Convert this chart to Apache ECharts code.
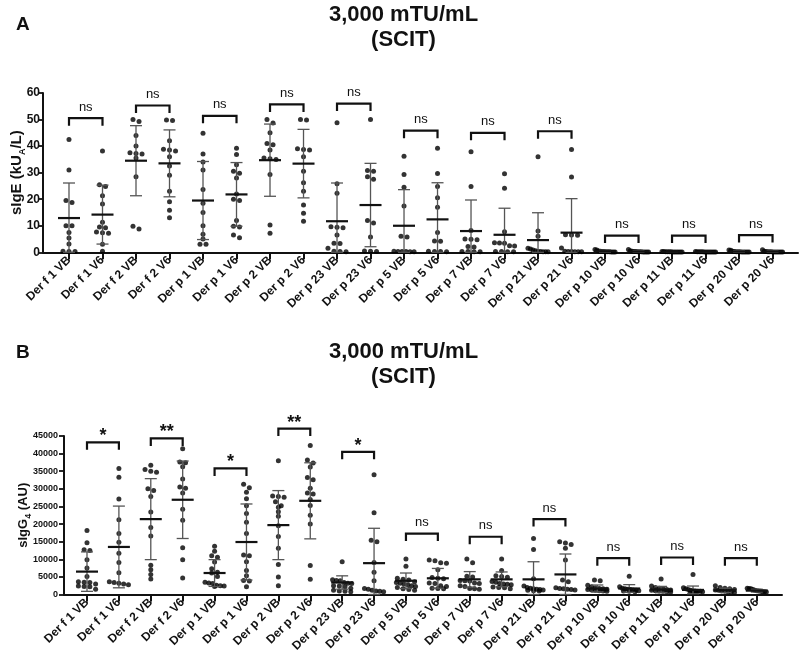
<!DOCTYPE html>
<html>
<head>
<meta charset="utf-8">
<script src="https://cdn.jsdelivr.net/npm/echarts@6/dist/echarts.min.js"></script>
<style>
html, body { margin: 0; padding: 0; background: #fff; }
#chart { width: 807px; height: 668px; }
</style>
</head>
<body>
<div id="chart"></div>
<script>
var categories = ['Der f 1 VB', 'Der f 1 V6', 'Der f 2 VB', 'Der f 2 V6', 'Der p 1 VB', 'Der p 1 V6',
  'Der p 2 VB', 'Der p 2 V6', 'Der p 23 VB', 'Der p 23 V6', 'Der p 5 VB', 'Der p 5 V6',
  'Der p 7 VB', 'Der p 7 V6', 'Der p 21 VB', 'Der p 21 V6', 'Der p 10 VB', 'Der p 10 V6',
  'Der p 11 VB', 'Der p 11 V6', 'Der p 20 VB', 'Der p 20 V6'];

// panel A : sIgE (kUA/L)
var sigeTicks = [0, 10, 20, 30, 40, 50, 60];
var sigeDots = [
  [42.5, 31.0, 19.5, 18.8, 10.0, 10.0, 7.5, 5.4, 3.1, 0.4, 0.3, 0.3],
  [38.2, 25.4, 24.8, 21.3, 18.2, 11.3, 9.5, 9.2, 7.6, 7.4, 7.2, 3.0, 0.4],
  [50.0, 49.3, 44.0, 40.0, 37.5, 37.2, 37.0, 35.5, 28.5, 9.8, 8.8],
  [49.8, 49.6, 42.0, 38.8, 38.5, 38.2, 36.0, 32.5, 29.0, 23.0, 19.0, 15.8, 13.0],
  [44.8, 37.0, 34.0, 31.0, 23.7, 18.5, 15.0, 10.0, 6.8, 5.0, 3.0, 3.0],
  [39.2, 36.8, 33.0, 30.5, 29.8, 28.0, 22.0, 20.0, 19.5, 12.0, 9.8, 9.5, 6.5, 5.5],
  [50.0, 48.7, 45.0, 41.0, 40.5, 38.5, 35.5, 35.2, 35.0, 29.3, 10.3, 7.2],
  [50.0, 49.8, 39.0, 38.7, 38.5, 36.0, 30.5, 26.2, 23.0, 17.8, 14.7, 11.7],
  [48.8, 25.8, 22.2, 9.6, 9.4, 9.2, 6.5, 3.4, 3.3, 1.5, 0.4, 0.3, 0.2],
  [50.0, 30.8, 30.5, 28.5, 27.5, 12.0, 11.0, 5.8, 0.5, 0.4, 0.3],
  [36.2, 29.3, 24.5, 17.4, 6.0, 5.8, 0.4, 0.3, 0.3, 0.3, 0.2, 0.2],
  [39.2, 29.7, 24.8, 20.5, 17.0, 7.5, 4.3, 4.2, 0.4, 0.3, 0.3, 0.2],
  [37.9, 24.8, 8.2, 5.0, 4.9, 4.7, 2.2, 2.0, 0.3, 0.3, 0.2, 0.2],
  [29.6, 24.1, 7.7, 3.6, 3.5, 3.4, 2.5, 2.4, 0.3, 0.3, 0.2, 0.2],
  [36.0, 8.0, 6.0, 1.5, 1.2, 0.9, 0.6, 0.3, 0.3, 0.2, 0.2, 0.2],
  [38.7, 28.4, 6.6, 6.5, 6.4, 1.6, 0.4, 0.3, 0.3, 0.2, 0.2, 0.2],
  [1.1, 0.9, 0.5, 0.4, 0.3, 0.3, 0.2, 0.2, 0.2, 0.1, 0.1, 0.1],
  [1.1, 0.6, 0.4, 0.3, 0.3, 0.2, 0.2, 0.2, 0.1, 0.1, 0.1, 0.1],
  [0.3, 0.3, 0.2, 0.2, 0.2, 0.2, 0.1, 0.1, 0.1, 0.1, 0.1, 0.1],
  [0.3, 0.2, 0.2, 0.2, 0.2, 0.1, 0.1, 0.1, 0.1, 0.1, 0.1, 0.1],
  [0.9, 0.8, 0.4, 0.3, 0.2, 0.2, 0.2, 0.1, 0.1, 0.1, 0.1, 0.1],
  [1.0, 0.4, 0.3, 0.2, 0.2, 0.2, 0.1, 0.1, 0.1, 0.1, 0.1, 0.1]
];
var sigeMean = [12.9, 14.2, 34.5, 33.5, 19.5, 21.8, 34.7, 33.4, 11.7, 17.8, 10.0, 12.4, 8.0, 6.6, 4.6, 7.4, 0.4, 0.3, 0.2, 0.2, 0.3, 0.3];
var sigeSd = [13.2, 11.1, 13.2, 12.6, 14.7, 12.0, 13.6, 12.9, 14.4, 15.7, 13.6, 13.8, 11.7, 10.0, 10.3, 12.8, 0.35, 0.3, 0.1, 0.1, 0.3, 0.3];
var sigeBracketY = [50.5, 55.3, 51.4, 55.7, 56.0, 45.8, 45.0, 45.6, 6.3, 6.3, 6.5];
var sigeBracketLabel = ['ns', 'ns', 'ns', 'ns', 'ns', 'ns', 'ns', 'ns', 'ns', 'ns', 'ns'];

// panel B : sIgG4 (AU)
var igg4Ticks = [0, 5000, 10000, 15000, 20000, 25000, 30000, 35000, 40000, 45000];
var igg4Dots = [
  [18200, 14700, 12700, 12500, 9900, 7500, 5100, 3600, 3500, 3400, 3000, 2400, 2300, 2200, 1500],
  [35800, 33300, 27100, 21200, 17300, 14800, 11700, 9100, 6200, 3600, 3400, 3200, 3000, 2800],
  [36700, 35500, 35000, 34700, 30000, 29500, 27800, 23400, 19000, 16600, 8300, 7000, 5700, 4400],
  [41400, 37600, 37400, 36300, 32800, 30500, 30200, 28800, 24200, 21100, 13300, 9900, 4700],
  [13700, 12300, 11000, 10600, 9200, 7300, 6300, 6100, 5100, 3500, 3300, 3100, 2600, 2500, 2400, 2300],
  [31300, 30300, 29000, 27200, 25200, 23000, 20500, 17300, 11200, 11000, 9300, 6800, 5300, 4000, 3800, 2200],
  [38000, 28000, 27800, 27600, 26300, 25200, 24800, 23500, 22200, 19500, 16500, 13100, 8500, 5000, 2500],
  [42300, 38200, 37300, 36200, 33200, 32600, 30200, 28800, 28500, 27000, 25300, 22500, 20000, 8200, 4300],
  [9300, 4200, 4000, 3900, 3400, 3200, 3100, 2500, 2400, 2200, 1800, 1200, 1000, 900, 800],
  [34000, 23200, 15400, 15000, 9100, 6300, 3900, 1700, 1500, 1200, 1000, 900, 800],
  [10100, 8000, 4600, 4300, 4100, 3600, 3400, 3200, 3000, 2800, 2500, 2300, 2000, 1600, 1400, 1200],
  [9800, 9600, 9000, 8900, 7000, 4800, 4600, 4500, 3300, 3100, 2500, 2300, 1800, 1700, 1600],
  [10100, 9000, 5200, 5000, 4000, 3900, 3800, 3300, 3100, 2500, 2300, 1700, 1600, 1500],
  [10100, 6800, 5300, 5100, 4900, 3700, 3500, 3100, 3000, 2900, 2800, 2100, 2000, 1900, 1600],
  [15900, 12800, 4500, 2400, 2000, 1800, 1600, 1500, 1400, 1300, 1200, 1100, 1000],
  [15000, 14600, 14200, 13100, 9800, 4100, 3600, 1900, 1700, 1600, 1500, 1400, 1300],
  [4100, 3900, 2600, 2200, 1900, 1700, 1600, 1500, 1400, 1300, 1200, 1100, 1000, 900],
  [5200, 2200, 1800, 1600, 1500, 1400, 1300, 1200, 1100, 1000, 900, 800],
  [4400, 2400, 2000, 1800, 1600, 1400, 1300, 1200, 1100, 1000, 900, 800, 700],
  [5700, 1900, 1600, 1400, 1200, 1100, 1000, 900, 900, 800, 700, 600],
  [2500, 2000, 1800, 1600, 1400, 1300, 1200, 1000, 900, 800, 700, 600],
  [1800, 1700, 1600, 1400, 1200, 1100, 1000, 900, 800, 800, 700]
];
var igg4Mean = [6500, 13500, 21400, 26900, 6100, 14900, 19700, 26600, 3400, 8900, 3900, 4600, 4300, 4300, 4300, 5700, 1700, 1700, 1400, 1300, 1200, 1100];
var igg4Sd = [5600, 11600, 11500, 11000, 3800, 10800, 9800, 10800, 1900, 9900, 2200, 2800, 2200, 2100, 5000, 5800, 1000, 1100, 900, 1100, 600, 400];
var igg4BracketY = [43200, 44300, 35800, 47100, 40500, 17300, 16400, 21400, 10300, 10500, 10300];
var igg4BracketLabel = ['*', '**', '*', '**', '*', 'ns', 'ns', 'ns', 'ns', 'ns', 'ns'];

var FONT = '"Liberation Sans", Arial, sans-serif';
var INK = '#111';

// spread points of similar value side by side, like a scatter dot plot
function swarm(values, idx, tol) {
  var sorted = values.slice().sort(function (a, b) { return b - a; });
  var out = [], row = [];
  function flush() {
    var n = row.length;
    var step = n > 1 ? Math.min(0.18, 0.6 / (n - 1)) : 0;
    row.forEach(function (v, k) { out.push([idx + (k - (n - 1) / 2) * step, v]); });
    row = [];
  }
  sorted.forEach(function (v) {
    if (row.length && row[0] - v > tol) flush();
    row.push(v);
  });
  flush();
  return out;
}

function dotData(groups, tol) {
  var pts = [];
  groups.forEach(function (g, i) { pts = pts.concat(swarm(g, i, tol)); });
  return pts;
}

function errorItem(params, api) {
  var x = api.value(0), m = api.value(1), s = api.value(2);
  var top = api.coord([x, m + s]);
  var bot = api.coord([x, Math.max(0, m - s)]);
  var mid = api.coord([x, m]);
  var bar = { stroke: '#555', lineWidth: 1.3 };
  return {
    type: 'group',
    children: [
      { type: 'line', shape: { x1: top[0], y1: top[1], x2: bot[0], y2: bot[1] }, style: bar },
      { type: 'line', shape: { x1: top[0] - 6, y1: top[1], x2: top[0] + 6, y2: top[1] }, style: bar },
      { type: 'line', shape: { x1: bot[0] - 6, y1: bot[1], x2: bot[0] + 6, y2: bot[1] }, style: bar },
      { type: 'line', shape: { x1: mid[0] - 11, y1: mid[1], x2: mid[0] + 11, y2: mid[1] }, style: { stroke: INK, lineWidth: 2.2 } }
    ]
  };
}

function bracketRenderer(labels) {
  return function (params, api) {
    var i = api.value(0), y = api.value(1);
    var a = api.coord([i, y]), b = api.coord([i + 1, y]);
    var lab = labels[params.dataIndex];
    var star = lab.indexOf('*') >= 0;
    return {
      type: 'group',
      children: [
        { type: 'polyline', shape: { points: [[a[0], a[1] + 7.5], [a[0], a[1]], [b[0], a[1]], [b[0], a[1] + 7.5]] },
          style: { stroke: INK, lineWidth: 2.2, fill: null } },
        { type: 'text', x: (a[0] + b[0]) / 2, y: a[1] - (star ? 6 : 11),
          style: { text: lab, align: 'center', verticalAlign: 'middle', fill: INK, font: (star ? 'bold 18px ' : '13px ') + FONT } }
      ]
    };
  };
}

function xAxisFor(gridIndex, min, max) {
  var idx = categories.map(function (c, i) { return i; });
  return {
    gridIndex: gridIndex, type: 'value', min: min, max: max,
    splitLine: { show: false },
    axisLine: { lineStyle: { color: INK, width: 2 } },
    axisTick: { customValues: idx, length: 7, lineStyle: { color: INK, width: 2 } },
    axisLabel: { customValues: idx, rotate: 45, margin: 6, color: INK, fontFamily: FONT, fontWeight: 'bold', fontSize: 12,
      formatter: function (v) { return categories[Math.round(v)]; } }
  };
}

function yAxisFor(gridIndex, ticks, labelSize, labelMargin, name, rich, gap) {
  return {
    gridIndex: gridIndex, type: 'value', min: ticks[0], max: ticks[ticks.length - 1], interval: ticks[1] - ticks[0],
    splitLine: { show: false },
    axisLine: { onZero: false, lineStyle: { color: INK, width: 2 } },
    axisTick: { length: 5, lineStyle: { color: INK, width: 1.8 } },
    axisLabel: { margin: labelMargin, color: INK, fontFamily: FONT, fontWeight: 'bold', fontSize: labelSize,
      formatter: function (v) { return String(v); } },
    name: name, nameLocation: 'middle', nameGap: gap, nameMoveOverlap: false,
    nameTextStyle: { rich: rich }
  };
}

var chart = echarts.init(document.getElementById('chart'));

function titleText(text, top, size, left) {
  return { text: text, left: left, top: top, padding: 0,
    textStyle: { fontFamily: FONT, fontWeight: 'bold', fontSize: size, lineHeight: 25, color: INK } };
}

var series = [];
[[sigeDots, sigeMean, sigeSd, sigeBracketY, sigeBracketLabel, 1.5],
 [igg4Dots, igg4Mean, igg4Sd, igg4BracketY, igg4BracketLabel, 1100]].forEach(function (p, k) {
  series.push({
    type: 'scatter', xAxisIndex: k, yAxisIndex: k, symbolSize: 5, silent: true,
    itemStyle: { color: '#000' }, data: dotData(p[0], p[5])
  });
  series.push({
    type: 'custom', xAxisIndex: k, yAxisIndex: k, silent: true, renderItem: errorItem,
    data: p[1].map(function (m, i) { return [i, m, p[2][i]]; }), z: 3
  });
  series.push({
    type: 'custom', xAxisIndex: k, yAxisIndex: k, silent: true, clip: false, renderItem: bracketRenderer(p[4]),
    data: p[3].map(function (y, i) { return [i * 2, y]; }), z: 4
  });
});

chart.setOption({
  backgroundColor: '#fff',
  animation: false,
  title: [
    titleText('3,000 mTU/mL\n(SCIT)', 2.5, 22, 'center'),
    titleText('3,000 mTU/mL\n(SCIT)', 339.5, 22, 'center'),
    titleText('A', 12, 19, 16),
    titleText('B', 340, 19, 16)
  ],
  grid: [
    { left: 43, right: 9, top: 93, height: 159.3, containLabel: false, outerBoundsMode: 'none' },
    { left: 64, right: 25, top: 436, height: 158.5, containLabel: false, outerBoundsMode: 'none' }
  ],
  xAxis: [xAxisFor(0, -0.776, 21.76), xAxisFor(1, -0.721, 21.79)],
  yAxis: [
    yAxisFor(0, sigeTicks, 12, 3, '{b|sIgE (kU}{s|A}{b|/L)}', {
      b: { fontFamily: FONT, fontWeight: 'bold', fontSize: 15, lineHeight: 20, color: INK },
      s: { fontFamily: FONT, fontWeight: 'bold', fontSize: 9, lineHeight: 12, verticalAlign: 'bottom', color: INK }
    }, 16),
    yAxisFor(1, igg4Ticks, 9, 6, '{b|sIgG}{s|4}{b| (AU)}', {
      b: { fontFamily: FONT, fontWeight: 'bold', fontSize: 13, lineHeight: 20, color: INK },
      s: { fontFamily: FONT, fontWeight: 'bold', fontSize: 9, lineHeight: 12, verticalAlign: 'bottom', color: INK }
    }, 31)
  ],
  series: series
});
</script>
</body>
</html>
